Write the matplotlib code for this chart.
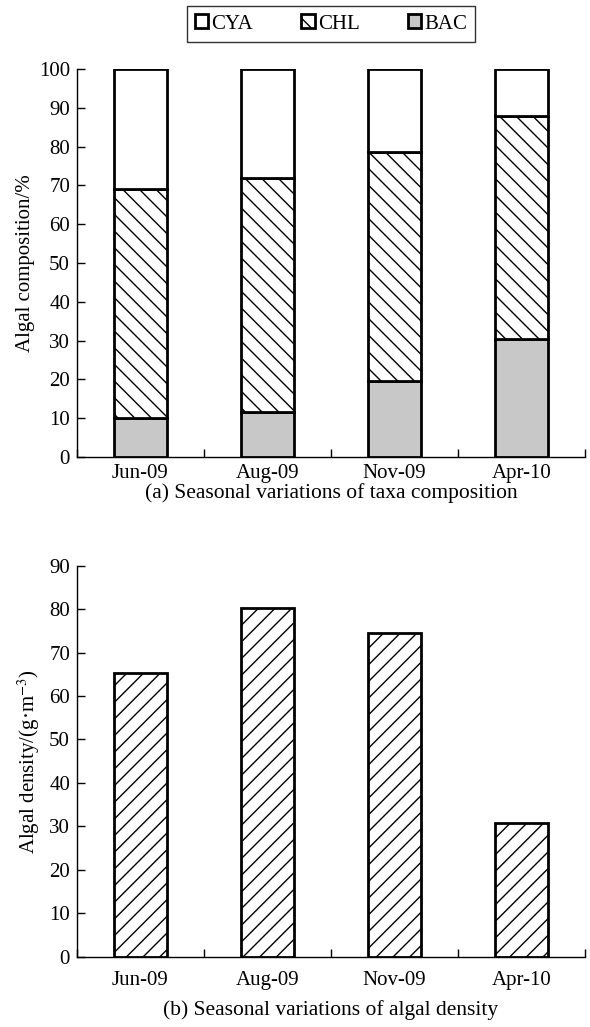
import matplotlib
matplotlib.use("Agg")
import matplotlib.pyplot as plt
import numpy as np
from matplotlib.patches import Patch

plt.rcParams['font.family'] = ['Liberation Serif', 'DejaVu Serif']
plt.rcParams['hatch.linewidth'] = 1.0
plt.rcParams['mathtext.fontset'] = 'stix'

months = ["Jun-09", "Aug-09", "Nov-09", "Apr-10"]
bac = [10.0, 11.5, 19.5, 30.5]
chl = [59.0, 60.5, 59.0, 57.5]
cya = [31.0, 28.0, 21.5, 12.0]
density = [65.2, 80.3, 74.6, 30.8]

W, H = 590, 1027
fig = plt.figure(figsize=(W / 100, H / 100), dpi=100)

x = np.arange(len(months))
bw = 0.42
fs = 15

def style_axes(ax, ymax, step, xpad):
    ax.spines['top'].set_visible(False)
    ax.spines['right'].set_visible(False)
    ax.set_xlim(-0.5, len(months) - 0.5)
    ax.set_ylim(0, ymax)
    ax.set_yticks(np.arange(0, ymax + 1, step))
    ax.set_xticks(np.arange(-0.5, len(months) + 0.5, 1.0))
    ax.set_xticklabels([])
    ax.set_xticks(x, minor=True)
    ax.set_xticklabels(months, minor=True, fontsize=fs)
    ax.tick_params(axis='x', which='major', direction='in', length=6, width=1)
    ax.tick_params(axis='x', which='minor', length=0, pad=xpad)
    ax.tick_params(axis='y', direction='in', length=6, width=1, labelsize=fs, pad=5)
    for s in ('left', 'bottom'):
        ax.spines[s].set_linewidth(1.0)

# (a) composition
ax1 = fig.add_axes([77 / W, 1 - 457 / H, (585 - 77) / W, (457 - 69) / H])
ax1.bar(x, bac, bw, color='#c8c8c8', edgecolor='black', linewidth=2, zorder=3)
ax1.bar(x, chl, bw, bottom=bac, color='white', edgecolor='black', hatch='\\\\', linewidth=2, zorder=3)
bottom2 = np.array(bac) + np.array(chl)
ax1.bar(x, cya, bw, bottom=bottom2, color='white', edgecolor='black', linewidth=2, zorder=3)
style_axes(ax1, 100, 10, 5)
ax1.set_ylabel("Algal composition/%", fontsize=fs, labelpad=3)
fig.text(331 / W, 1 - 493 / H, "(a) Seasonal variations of taxa composition",
         ha='center', va='center', fontsize=15.5)

handles = [Patch(facecolor='white', edgecolor='black', linewidth=2, label='CYA'),
           Patch(facecolor='white', edgecolor='black', linewidth=2, hatch='\\\\', label='CHL'),
           Patch(facecolor='#c8c8c8', edgecolor='black', linewidth=2, label='BAC')]
leg = fig.legend(handles=handles, loc='center', bbox_to_anchor=(331 / W, 1 - 24 / H),
                 ncol=3, fontsize=fs, frameon=True, fancybox=False, edgecolor='black',
                 handlelength=0.65, handleheight=0.65, handletextpad=0.15, columnspacing=2.3,
                 borderpad=0.4, borderaxespad=0)
leg.get_frame().set_linewidth(1.0)

# (b) density
ax2 = fig.add_axes([77 / W, 1 - 956.7 / H, (585 - 77) / W, (956.7 - 565.7) / H])
ax2.bar(x, density, bw, color='white', edgecolor='black', hatch='//', linewidth=2, zorder=3)
style_axes(ax2, 90, 10, 10)
ax2.set_ylabel("Algal density/(g·m$^{-3}$)", fontsize=fs, labelpad=5)
fig.text(331 / W, 1 - 1010 / H, "(b) Seasonal variations of algal density",
         ha='center', va='center', fontsize=15.5)

fig.savefig("out.png", dpi=100)
